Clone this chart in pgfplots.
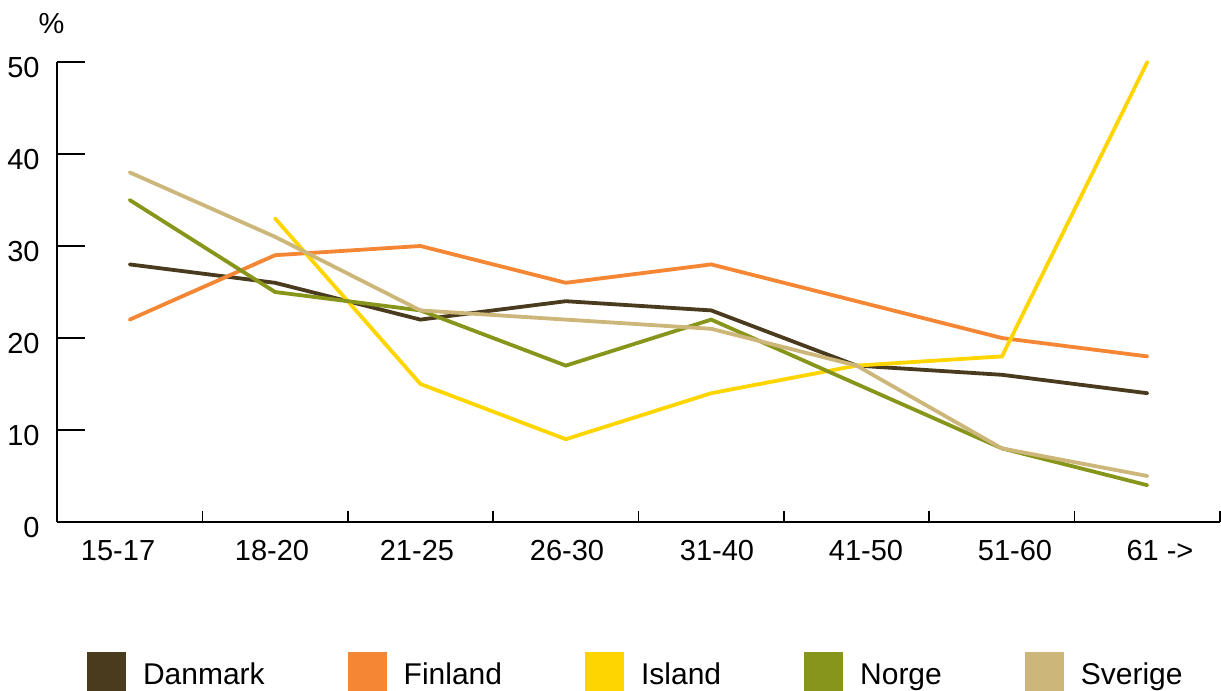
\documentclass[border=0pt]{standalone}
\usepackage{fontspec}
\setmainfont{Liberation Sans}
\usepackage{pgfplots}
\pgfplotsset{compat=1.18}
\definecolor{cDan}{HTML}{4A3B1E}
\definecolor{cFin}{HTML}{F58634}
\definecolor{cIsl}{HTML}{FFD500}
\definecolor{cNor}{HTML}{87961A}
\definecolor{cSve}{HTML}{CDB67A}
\begin{document}
\begin{tikzpicture}
\begin{axis}[
 scale only axis, width=581.5pt, height=230pt,
 xmin=-0.5, xmax=7.5, ymin=0, ymax=50,
 axis lines*=left,
 axis line style={line width=0.85pt, black},
 clip=false,
 xtick={-0.080,0.979,1.976,3.008,4.040,5.065,6.090,7.087},
 xticklabels={15-17,18-20,21-25,26-30,31-40,41-50,51-60,61 ->},
 minor xtick={-0.5,0.5,...,7.5},
 ytick={0,10,...,50},
 tick align=inside,
 major tick length=14pt,
 minor tick length=5.5pt,
 tick style={line width=0.85pt, black},
 major x tick style={draw=none},
 ticklabel style={font=\fontsize{14.5}{17}\selectfont},
 xticklabel style={yshift=-5.7pt},
 yticklabel style={xshift=-5.2pt, yshift=-3pt},
 /pgf/number format/assume math mode=true,
 legend columns=5,
 legend cell align=left,
 legend style={at={(rel axis cs:0,0)}, anchor=north west, xshift=15pt, yshift=-65pt,
   draw=none, fill=none, inner sep=0pt, outer sep=0pt,
   font=\fontsize{15}{18}\selectfont,
   nodes={inner sep=0pt, text height=15.5pt, text depth=3pt},
   /tikz/every odd column/.style={column sep=8.5pt},
   /tikz/every even column/.style={column sep=41.5pt}},
 legend image code/.code={\fill[#1,draw=none] (0pt,-9.75pt) rectangle (19.5pt,9.75pt);},
 every axis plot/.append style={line width=1.9pt, line cap=round},
]
\addplot[color=cDan] coordinates {(0,28) (1,26) (2,22) (3,24) (4,23) (5,17) (6,16) (7,14)};
\addlegendentry{Danmark}
\addplot[color=cFin] coordinates {(0,22) (1,29) (2,30) (3,26) (4,28) (5,24) (6,20) (7,18)};
\addlegendentry{Finland}
\addplot[color=cIsl] coordinates {(1,33) (2,15) (3,9) (4,14) (5,17) (6,18) (7,50)};
\addlegendentry{Island}
\addplot[color=cNor] coordinates {(0,35) (1,25) (2,23) (3,17) (4,22) (5,15) (6,8) (7,4)};
\addlegendentry{Norge}
\addplot[color=cSve] coordinates {(0,38) (1,31) (2,23) (3,22) (4,21) (5,17) (6,8) (7,5)};
\addlegendentry{Sverige}
\coordinate (bl) at (rel axis cs:0,0);
\coordinate (tr) at (rel axis cs:1,1);
\node[anchor=base, font=\fontsize{14.5}{17}\selectfont, xshift=-2.75pt, yshift=14.5pt] at (rel axis cs:0,1) {\%};
\end{axis}
\pgfresetboundingbox
\path[use as bounding box] ([xshift=-28.5pt,yshift=-84pt]bl) rectangle ([xshift=0.5pt,yshift=31pt]tr);
\end{tikzpicture}
\end{document}
